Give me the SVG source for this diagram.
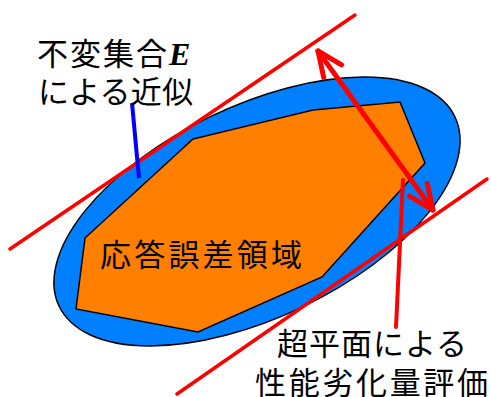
<svg xmlns="http://www.w3.org/2000/svg" width="491" height="397" viewBox="0 0 491 397">
<style>
.jp{font-family:"Noto Sans CJK JP","Noto Sans CJK SC",sans-serif;font-size:31px;fill:#000}
.red{stroke:#FF0000;fill:none;stroke-linecap:round}
</style>
<defs>
<marker id="ah" markerUnits="userSpaceOnUse" markerWidth="60" markerHeight="60" refX="0" refY="0" viewBox="-30 -30 60 60" orient="auto-start-reverse" overflow="visible">
<path d="M-25,-11 L0,0 L-25,11" fill="none" stroke="#FF0000" stroke-width="5" stroke-linecap="round" stroke-linejoin="round"/>
</marker>
</defs>
<rect width="491" height="397" fill="#fff"/>
<g id="invariant-set">
<ellipse cx="257" cy="211.5" rx="219.4" ry="105.7" transform="rotate(-25.6 257 211.5)" fill="#0080FF" stroke="#000" stroke-width="1.5"/>
</g>
<g id="response-error-region">
<polygon points="193,139 313,110 400,102 425,163 322,277 198,332 76,309 85,238" fill="#FF8000" stroke="#000" stroke-width="1.5"/>
<text class="jp" x="100" y="266" font-size="33" textLength="202">応答誤差領域</text>
</g>
<g id="connectors">
<line class="red" x1="10" y1="249" x2="355" y2="15" stroke-width="3.5"/>
<line class="red" x1="177" y1="394" x2="487" y2="179" stroke-width="3.5"/>
<line class="red" x1="318" y1="51" x2="433" y2="210" stroke-width="5" marker-start="url(#ah)" marker-end="url(#ah)"/>
<line x1="132" y1="103" x2="139" y2="178" stroke="#0000FF" stroke-width="4"/>
<line class="red" x1="403" y1="180" x2="396" y2="327" stroke-width="4"/>
</g>
<g id="label-invariant">
<text class="jp" x="37" y="65" textLength="130">不変集合</text>
<text x="169" y="65" font-family="Liberation Serif" font-weight="bold" font-style="italic" font-size="32" fill="#000">E</text>
<text class="jp" x="38" y="103" textLength="155">による近似</text>
</g>
<g id="label-hyperplane">
<text class="jp" x="277" y="355" textLength="190">超平面による</text>
<text class="jp" x="255" y="394" font-size="32" textLength="233">性能劣化量評価</text>
</g>
</svg>
